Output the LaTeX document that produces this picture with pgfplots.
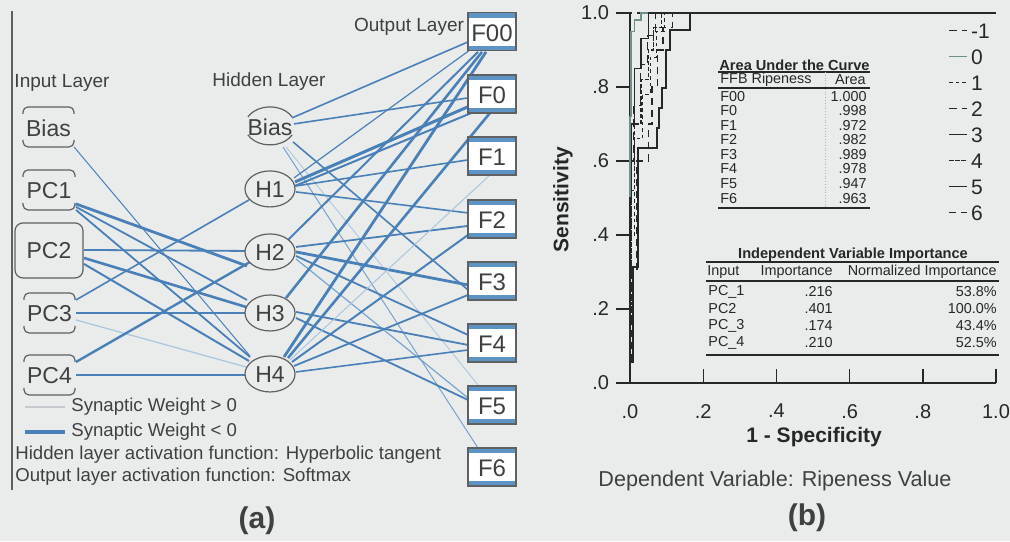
\documentclass[border=0pt]{standalone}
\usepackage{pgfplots}
\pgfplotsset{compat=1.18}
\usepackage{fontspec}
\setmainfont{Liberation Sans}

\definecolor{bg}{HTML}{EAEBEB}
\definecolor{ink}{HTML}{3E4042}
\definecolor{inkb}{HTML}{262728}
\definecolor{wneg}{HTML}{4A80B8}
\definecolor{wmid}{HTML}{77A4CE}
\definecolor{wpos}{HTML}{A9C6DF}
\definecolor{legpos}{HTML}{C3C9CE}
\definecolor{strip}{HTML}{5E93C6}
\definecolor{boxgray}{HTML}{5E6062}
\definecolor{rocgray}{HTML}{6F8F8D}

\newcommand\fs[1]{\fontsize{#1}{#1}\selectfont}

% output neuron: white box with blue bands, centred at height #1
\newcommand\outbox[2]{%
  \fill[white] (axis cs:468,{#1-19}) rectangle (axis cs:516,{#1+19});
  \fill[strip] (axis cs:468,{#1-19}) rectangle (axis cs:516,{#1-14});
  \fill[strip] (axis cs:468,{#1+14}) rectangle (axis cs:516,{#1+19});
  \draw[boxgray, line width=0.6pt] (axis cs:468,{#1-19}) rectangle (axis cs:516,{#1+19});
  \node[t, font=\fs{12}] at (axis cs:492,{#1+1}) {#2};}
% input neuron: bracket-style rounded box
\newcommand\inbox[4]{%
  \draw[boxgray, line width=0.6pt, rounded corners=2.5pt] (axis cs:#1,{#3-13}) -- (axis cs:#1,{#3-20}) -- (axis cs:#2,{#3-20}) -- (axis cs:#2,{#3-13});
  \draw[boxgray, line width=0.6pt, rounded corners=2.5pt] (axis cs:#1,{#3+13}) -- (axis cs:#1,{#3+20}) -- (axis cs:#2,{#3+20}) -- (axis cs:#2,{#3+13});
  \node[t, font=\fs{11.5}] at (axis cs:{(#1+#2)/2},{#3+1}) {#4};}
% hidden neuron
\newcommand\hid[2]{%
  \draw[boxgray, line width=0.6pt, fill=bg] (axis cs:270,#1) ellipse [x radius=12.5pt, y radius=9pt];
  \node[t, font=\fs{11.5}] at (axis cs:270,{#1+1}) {#2};}
% one connection
\newcommand\edge[4]{\addplot[#1, line width=#2] coordinates {#3 #4};}
% table rows
\newcommand\aucrow[3]{%
  \node[t, text=inkb, anchor=west, font=\fs{7.2}] at (axis cs:720,#1) {#2};
  \node[t, text=inkb, anchor=east, font=\fs{7.2}] at (axis cs:867,#1) {#3};}
\newcommand\improw[4]{%
  \node[t, text=inkb, anchor=west, font=\fs{7.2}] at (axis cs:708,#1) {#2};
  \node[t, text=inkb, anchor=east, font=\fs{7.2}] at (axis cs:833,#1) {#3};
  \node[t, text=inkb, anchor=east, font=\fs{7.2}] at (axis cs:997,#1) {#4};}

\tikzset{t/.style={inner sep=0pt, text=ink}}

\begin{document}
\begin{tikzpicture}
\path[use as bounding box, fill=bg] (0,0) rectangle (505pt,270.5pt);

% ---------- (a) network diagram, page coordinates ----------
\begin{axis}[at={(0,0)}, anchor=south west, width=505pt, height=270.5pt,
  scale only axis, xmin=0, xmax=1010, ymin=0, ymax=541, y dir=reverse,
  hide axis, clip=false, every axis plot/.append style={no marks}]

% input -> hidden
\edge{wneg}{0.5pt}{(74,147)}{(250,356)}
\edge{wneg}{1.4pt}{(76,204)}{(247,266)}
\edge{wneg}{0.9pt}{(76,207)}{(247,300)}
\edge{wneg}{0.9pt}{(76,210)}{(250,357)}
\edge{wneg}{0.9pt}{(84,250)}{(245,251)}
\edge{wneg}{1.3pt}{(84,258)}{(246,307)}
\edge{wneg}{1.0pt}{(84,264)}{(249,361)}
\edge{wneg}{0.8pt}{(76,300)}{(249,200)}
\edge{wneg}{0.6pt}{(76,313)}{(245,313)}
\edge{wpos}{0.6pt}{(76,320)}{(246,367)}
\edge{wneg}{1.2pt}{(76,362)}{(250,262)}
\edge{wneg}{0.8pt}{(76,375)}{(245,375)}

% hidden -> output
\edge{wneg}{0.8pt}{(292,118)}{(468,42)}
\edge{wneg}{0.8pt}{(294,124)}{(468,98)}
\edge{wneg}{0.8pt}{(293,142)}{(468,290)}
\edge{wmid}{0.5pt}{(283,147)}{(478,448)}
\edge{wpos}{0.4pt}{(286,147)}{(478,385)}
\edge{wneg}{0.6pt}{(294,178)}{(470,50)}
\edge{wneg}{1.5pt}{(295,182)}{(470,106)}
\edge{wneg}{1.0pt}{(295,186)}{(474,112)}
\edge{wneg}{0.8pt}{(296,186)}{(468,160)}
\edge{wneg}{0.8pt}{(296,192)}{(468,213)}
\edge{wneg}{1.0pt}{(288,240)}{(478,52)}
\edge{wneg}{0.9pt}{(296,247)}{(468,226)}
\edge{wneg}{1.4pt}{(296,252)}{(468,285)}
\edge{wneg}{0.9pt}{(296,256)}{(468,335)}
\edge{wmid}{0.6pt}{(296,259)}{(468,398)}
\edge{wneg}{1.3pt}{(286,298)}{(482,52)}
\edge{wneg}{0.9pt}{(296,312)}{(468,345)}
\edge{wneg}{0.9pt}{(296,318)}{(468,400)}
\edge{wneg}{1.4pt}{(284,357)}{(486,52)}
\edge{wneg}{1.3pt}{(288,358)}{(490,113)}
\edge{wpos}{0.5pt}{(290,360)}{(490,175)}
\edge{wneg}{1.0pt}{(292,362)}{(468,235)}
\edge{wneg}{0.9pt}{(294,366)}{(468,295)}
\edge{wneg}{0.8pt}{(296,372)}{(468,350)}

% left rule
\draw[boxgray, line width=0.8pt] (axis cs:12,11) -- (axis cs:12,490);

% layer titles
\node[t, font=\fs{9.5}] at (axis cs:62,83) {Input Layer};
\node[t, font=\fs{9.5}] at (axis cs:269,82) {Hidden Layer};
\node[t, font=\fs{9.5}] at (axis cs:409,27) {Output Layer};

% input layer
\inbox{23}{74}{127}{Bias}
\inbox{23}{75}{190}{PC1}
\draw[boxgray, line width=0.6pt, rounded corners=4pt] (axis cs:15,223) rectangle (axis cs:83,278);
\node[t, font=\fs{11.5}] at (axis cs:49,251) {PC2};
\inbox{24}{75}{313}{PC3}
\inbox{24}{75}{375}{PC4}

% hidden layer
\draw[boxgray, line width=0.6pt] (axis cs:270,126) ++(28:12.5pt and 9.5pt) arc[start angle=28, end angle=152, x radius=12.5pt, y radius=9.5pt];
\draw[boxgray, line width=0.6pt] (axis cs:270,126) ++(208:12.5pt and 9.5pt) arc[start angle=208, end angle=332, x radius=12.5pt, y radius=9.5pt];
\node[t, font=\fs{11.5}] at (axis cs:270,127) {Bias};
\hid{189}{H1}
\hid{252}{H2}
\hid{313}{H3}
\hid{374}{H4}

% output layer
\outbox{32}{F00}
\outbox{94}{F0}
\outbox{156}{F1}
\outbox{219}{F2}
\outbox{281}{F3}
\outbox{343}{F4}
\outbox{405}{F5}
\outbox{467}{F6}

% key and notes
\draw[legpos, line width=1.3pt] (axis cs:25,407) -- (axis cs:65,407);
\node[t, anchor=west, font=\fs{9.3}] at (axis cs:71,407) {Synaptic Weight > 0};
\draw[wneg, line width=1.6pt] (axis cs:25,432) -- (axis cs:65,432);
\node[t, anchor=west, font=\fs{9.3}] at (axis cs:71,432) {Synaptic Weight < 0};
\node[t, anchor=west, font=\fs{9.3}] at (axis cs:15,455) {Hidden layer activation function: Hyperbolic tangent};
\node[t, anchor=west, font=\fs{9.3}] at (axis cs:15,477) {Output layer activation function: Softmax};
\node[t, font=\bfseries\fs{15}] at (axis cs:257,521) {(a)};

% ---------- (b) tables and captions ----------
\node[t, text=inkb, anchor=west, font=\bfseries\fs{7.3}] at (axis cs:719,65) {Area Under the Curve};
\draw[inkb, line width=0.6pt] (axis cs:718,72) -- (axis cs:870,72);
\draw[gray!60, line width=0.4pt, densely dotted] (axis cs:825,72) -- (axis cs:825,208);
\node[t, text=inkb, anchor=west, font=\fs{7.2}] at (axis cs:720,80) {FFB Ripeness};
\node[t, text=inkb, anchor=east, font=\fs{7.2}] at (axis cs:866,80) {Area};
\draw[inkb, line width=0.6pt] (axis cs:718,88) -- (axis cs:870,88);
\aucrow{97}{F00}{1.000}
\aucrow{111}{F0}{.998}
\aucrow{126}{F1}{.972}
\aucrow{140}{F2}{.982}
\aucrow{155}{F3}{.989}
\aucrow{169}{F4}{.978}
\aucrow{184}{F5}{.947}
\aucrow{199}{F6}{.963}
\draw[inkb, line width=0.6pt] (axis cs:718,208) -- (axis cs:870,208);

\node[t, text=inkb, font=\bfseries\fs{7.3}] at (axis cs:853,255) {Independent Variable Importance};
\draw[inkb, line width=0.6pt] (axis cs:706,262) -- (axis cs:999,262);
\node[t, text=inkb, anchor=west, font=\fs{7.2}] at (axis cs:707,272) {Input};
\node[t, text=inkb, anchor=east, font=\fs{7.2}] at (axis cs:833,272) {Importance};
\node[t, text=inkb, anchor=east, font=\fs{7.2}] at (axis cs:997,272) {Normalized Importance};
\draw[inkb, line width=0.6pt] (axis cs:706,281) -- (axis cs:999,281);
\improw{292}{PC\_1}{.216}{53.8\%}
\improw{309}{PC2}{.401}{100.0\%}
\improw{326}{PC\_3}{.174}{43.4\%}
\improw{343}{PC\_4}{.210}{52.5\%}
\draw[inkb, line width=0.6pt] (axis cs:706,355) -- (axis cs:999,355);

\node[t, font=\fs{10.8}] at (axis cs:775,481) {Dependent Variable: Ripeness Value};
\node[t, font=\bfseries\fs{15}] at (axis cs:807,518) {(b)};

\coordinate (rocsw) at (axis cs:630,383);
\end{axis}

% ---------- (b) ROC curves ----------
\begin{axis}[at={(rocsw)}, anchor=south west, width=183pt, height=185pt,
  scale only axis, xmin=0, xmax=1, ymin=0, ymax=1, clip=false,
  axis x line*=bottom, axis y line*=left,
  axis line style={inkb, line width=0.7pt},
  xtick={0,0.2,0.4,0.6,0.8,1}, xticklabels={.0,.2,.4,.6,.8,1.0},
  ytick={0,0.2,0.4,0.6,0.8,1}, yticklabels={.0,.2,.4,.6,.8,1.0},
  tick align=outside, major tick length=7pt,
  tick style={inkb, line width=0.7pt},
  x tick style={yshift=7pt},
  tick label style={font=\fs{10}, text=inkb},
  xlabel={1 - Specificity},
  xlabel style={font=\bfseries\fs{10.5}, text=inkb, at={(axis description cs:0.503,-0.146)}, anchor=center, inner sep=0pt},
  ylabel={Sensitivity},
  ylabel style={font=\bfseries\fs{10.5}, text=inkb, at={(axis description cs:-0.183,0.495)}, anchor=center, inner sep=0pt},
  legend cell align=left,
  legend style={at={(axis cs:0.852,0.983)}, anchor=north west, draw=none, fill=none,
    font=\fs{10.5}, text=inkb, row sep=5.5pt, column sep=1.5pt,
    nodes={inner sep=0pt, text height=7.5pt, text depth=0pt}},
  legend image code/.code={\draw[#1] (0pt,0.3pt) -- (9pt,0.3pt);},
  every axis plot/.append style={no marks, line width=0.55pt}]

\addplot[inkb, dash pattern=on 4pt off 2.5pt] coordinates {(0,0) (0,1) (1,1)};
\addlegendentry{-1}
\addplot[rocgray, line width=0.9pt] coordinates {(0,0) (0,0.72) (0.003,0.72) (0.003,0.95) (0.012,0.95) (0.012,0.98) (0.03,0.98) (0.03,1) (1,1)};
\addlegendentry{0}
\addplot[inkb, dash pattern=on 1.8pt off 1.5pt] coordinates {(0,0) (0,0.15) (0.004,0.15) (0.004,0.4) (0.012,0.4) (0.012,0.66) (0.035,0.66) (0.035,0.78) (0.055,0.78) (0.055,0.88) (0.072,0.88) (0.072,0.95) (0.095,0.95) (0.095,1) (1,1)};
\addlegendentry{1}
\addplot[inkb, dash pattern=on 4pt off 2.5pt] coordinates {(0,0) (0,0.4) (0.005,0.4) (0.005,0.6) (0.01,0.6) (0.01,0.75) (0.028,0.75) (0.028,0.86) (0.048,0.86) (0.048,0.94) (0.07,0.94) (0.07,1) (1,1)};
\addlegendentry{2}
\addplot[inkb] coordinates {(0,0) (0,0.5) (0.005,0.5) (0.005,0.7) (0.013,0.7) (0.013,0.85) (0.03,0.85) (0.03,0.93) (0.05,0.93) (0.05,1) (1,1)};
\addlegendentry{3}
\addplot[inkb, dash pattern=on 2.2pt off 0.8pt] coordinates {(0,0) (0,0.3) (0.005,0.3) (0.005,0.52) (0.012,0.52) (0.012,0.7) (0.03,0.7) (0.03,0.82) (0.05,0.82) (0.05,0.9) (0.065,0.9) (0.065,0.96) (0.085,0.96) (0.085,1) (1,1)};
\addlegendentry{4}
\addplot[inkb, line width=0.8pt] coordinates {(0,0) (0,0.057) (0.008,0.057) (0.008,0.314) (0.022,0.314) (0.022,0.635) (0.074,0.635) (0.074,0.689) (0.079,0.689) (0.079,0.743) (0.087,0.743) (0.087,0.797) (0.098,0.797) (0.098,0.9) (0.109,0.9) (0.109,0.954) (0.164,0.954) (0.164,1) (1,1)};
\addlegendentry{5}
\addplot[inkb, dash pattern=on 3.5pt off 2.5pt] coordinates {(0,0) (0,0.05) (0.005,0.05) (0.005,0.3) (0.019,0.3) (0.019,0.6) (0.05,0.6) (0.05,0.7) (0.06,0.7) (0.06,0.8) (0.075,0.8) (0.075,0.9) (0.09,0.9) (0.09,0.96) (0.115,0.96) (0.115,1) (1,1)};
\addlegendentry{6}
\end{axis}
\end{tikzpicture}
\end{document}
